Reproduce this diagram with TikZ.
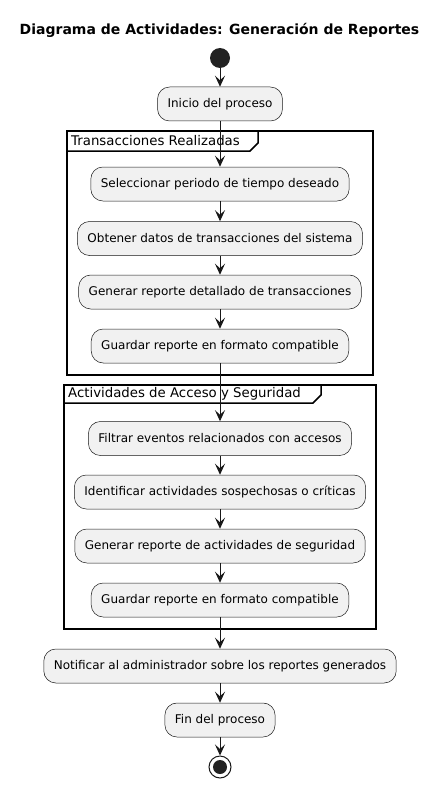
\documentclass[tikz,border=0pt]{standalone}
\usepackage{fontspec}
\setmainfont{DejaVu Sans}
\usetikzlibrary{arrows.meta}
\definecolor{actfill}{HTML}{F1F1F1}
\definecolor{ink}{HTML}{181818}
\definecolor{dot}{HTML}{222222}

\begin{document}
\begin{tikzpicture}
  [x=1pt,y=-1pt,
   act/.style={rectangle,rounded corners=12pt,draw=ink,line width=.5pt,fill=actfill,
     minimum height=34pt,inner xsep=10pt,font=\fontsize{12}{14}\selectfont},
   flow/.style={draw=ink,line width=1pt,-{Stealth[length=11pt,width=10pt,inset=4.5pt]}},
   grp/.style={draw=black,line width=1.5pt},
   grplabel/.style={anchor=west,inner sep=0pt,font=\fontsize{13.3}{16}\selectfont}]
  \useasboundingbox (0,0) rectangle (439,789);

  \node (title) at (219.5,30) {\fontsize{14}{16}\selectfont\bfseries Diagrama de Actividades: Generación de Reportes};

  % groups
  \draw[grp] (67,131) rectangle (373,375);
  \draw[grp] (67,151) -- (250,151) -- (258,143) -- (258,131);
  \node[grplabel] (g1) at (71,141) {Transacciones Realizadas};
  \draw[grp] (64,385) rectangle (376,629);
  \draw[grp] (64,403) -- (313,403) -- (321,395) -- (321,385);
  \node[grplabel] (g2) at (68,394) {Actividades de Acceso y Seguridad};

  % activities
  \node[circle,fill=dot,minimum size=20pt,inner sep=0pt] (start) at (220,58) {};
  \node[act] (ini) at (220,104) {Inicio del proceso};
  \node[act] (sel) at (220,184) {Seleccionar periodo de tiempo deseado};
  \node[act] (obt) at (220,238.5) {Obtener datos de transacciones del sistema};
  \node[act] (gen) at (220,292) {Generar reporte detallado de transacciones};
  \node[act] (gua) at (220,346) {Guardar reporte en formato compatible};
  \node[act] (fil) at (220,438.5) {Filtrar eventos relacionados con accesos};
  \node[act] (ide) at (220,492) {Identificar actividades sospechosas o críticas};
  \node[act] (gse) at (220,546) {Generar reporte de actividades de seguridad};
  \node[act] (gub) at (220,600) {Guardar reporte en formato compatible};
  \node[act] (not) at (220,666) {Notificar al administrador sobre los reportes generados};
  \node[act] (fin) at (220,720) {Fin del proceso};
  \node[circle,draw=ink,line width=1pt,fill=white,minimum size=22pt,inner sep=0pt] (stop) at (220,767) {};
  \fill[dot] (stop) circle (7pt);

  \foreach \from/\to in {start/ini,ini/sel,sel/obt,obt/gen,gen/gua,gua/fil,
                         fil/ide,ide/gse,gse/gub,gub/not,not/fin,fin/stop}
    \draw[flow] (\from) -- (\to);

\end{tikzpicture}
\end{document}
